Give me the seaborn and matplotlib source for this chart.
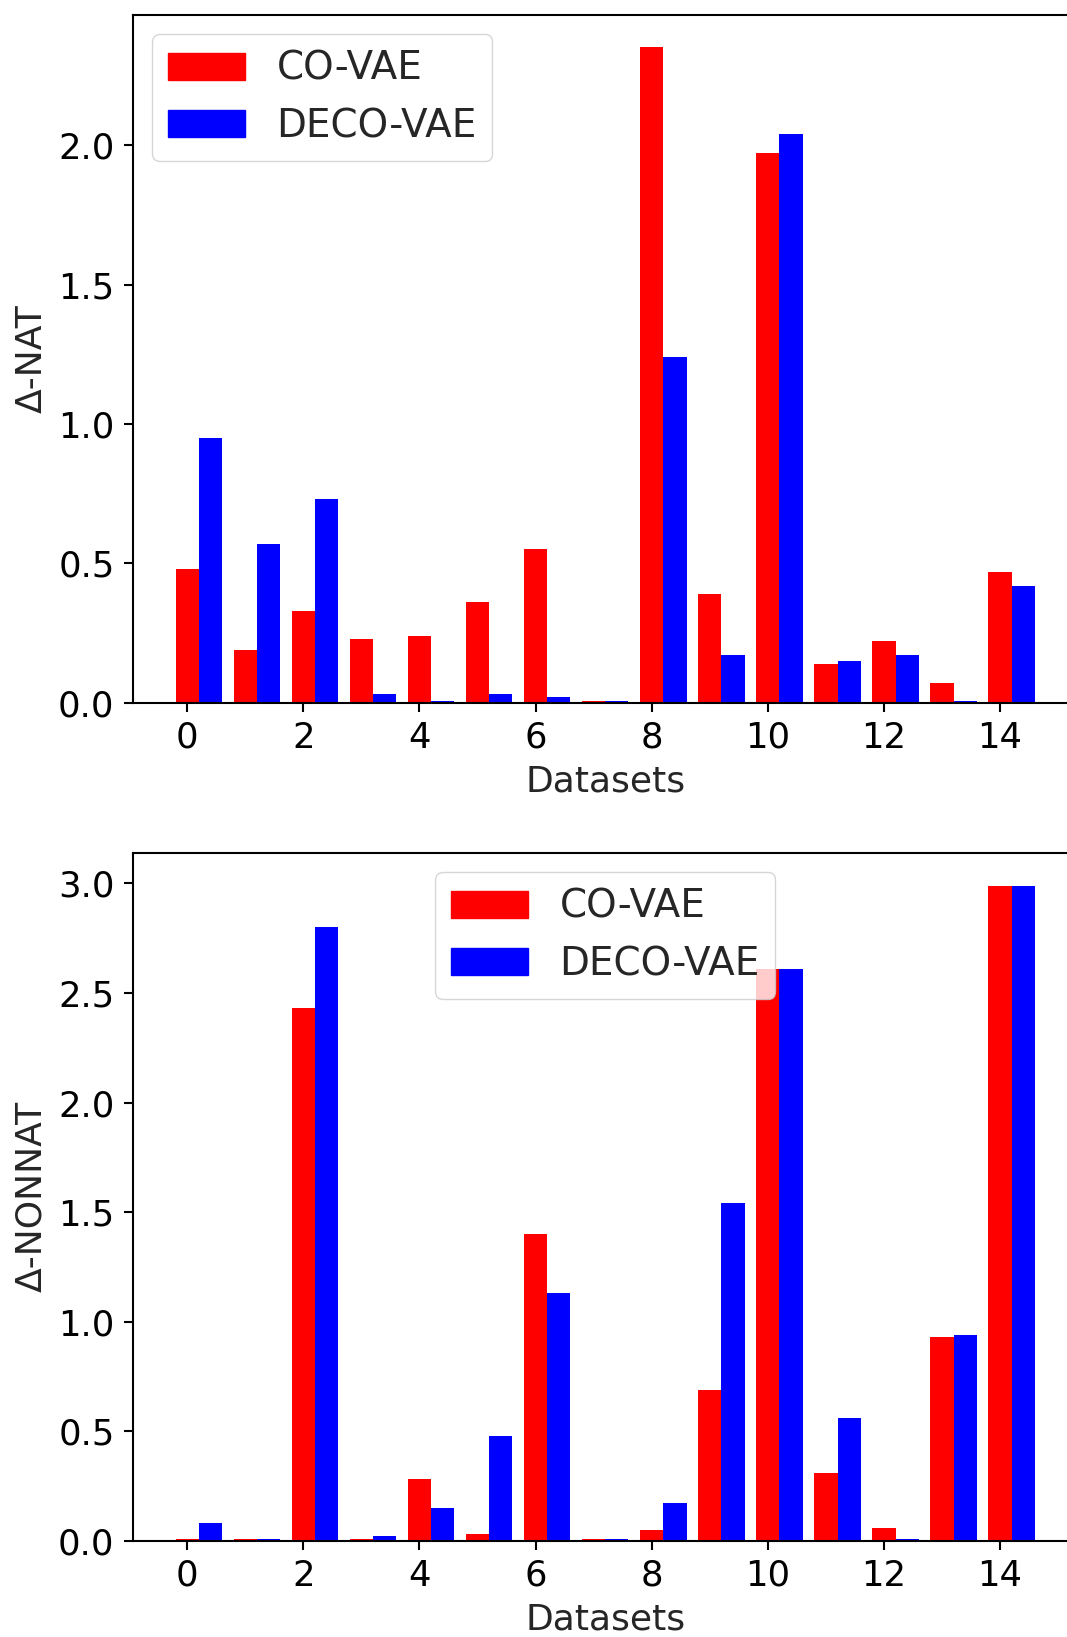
import matplotlib
matplotlib.use("Agg")
import matplotlib.pyplot as plt
from matplotlib.patches import Patch
import seaborn as sns
import pandas as pd
import numpy as np

# values (dataset index 0..14)
datasets = list(range(15))
models = ["CO-VAE", "DECO-VAE"]
nat_co = [0.48, 0.19, 0.33, 0.23, 0.24, 0.36, 0.55, 0.006, 2.35, 0.39, 1.97, 0.14, 0.22, 0.07, 0.47]
nat_deco = [0.95, 0.57, 0.73, 0.03, 0.006, 0.03, 0.02, 0.006, 1.24, 0.17, 2.04, 0.15, 0.17, 0.006, 0.42]
nonnat_co = [0.01, 0.01, 2.43, 0.01, 0.28, 0.03, 1.40, 0.01, 0.05, 0.69, 2.61, 0.31, 0.06, 0.93, 2.99]
nonnat_deco = [0.08, 0.01, 2.80, 0.02, 0.15, 0.48, 1.13, 0.01, 0.17, 1.54, 2.61, 0.56, 0.01, 0.94, 2.99]

colors = {"CO-VAE": "red", "DECO-VAE": "blue"}

sns.set_style("ticks")
plt.rcParams.update({
    "font.family": ["DejaVu Sans"],
    "axes.edgecolor": "black",
    "axes.linewidth": 1.5,
    "xtick.color": "black",
    "ytick.color": "black",
    "xtick.major.size": 6.5,
    "ytick.major.size": 6.5,
    "xtick.major.width": 1.5,
    "ytick.major.width": 1.5,
    "xtick.major.pad": 6.5,
    "ytick.major.pad": 6.5,
    "axes.labelpad": 7.0,
})


def make_frame(co, deco):
    # red bar centred on the dataset index, blue bar just right of it
    df = pd.DataFrame({
        "pos": [d + 0.2 for d in datasets] * 2,
        "value": co + deco,
        "model": [models[0]] * len(co) + [models[1]] * len(deco),
    })
    return df


def draw_panel(ax, co, deco, ylabel, loc):
    df = make_frame(co, deco)
    sns.barplot(data=df, x="pos", y="value", hue="model", hue_order=models,
                palette=colors, native_scale=True, dodge=True, width=0.8,
                saturation=1, errorbar=None, linewidth=0, legend=False, ax=ax)
    ax.set_xlim(-0.94, 15.34)
    ax.set_ylim(0, 1.05 * max(max(co), max(deco)))
    ax.set_xticks(np.arange(0, 15, 2))
    ax.set_xticklabels([str(t) for t in range(0, 15, 2)])
    ax.tick_params(labelsize=25.5)
    ax.set_xlabel("Datasets", fontsize=26)
    ax.set_ylabel(ylabel, fontsize=26)
    for s in ax.spines.values():
        s.set_visible(True)
    handles = [Patch(color=colors[m], label=m) for m in models]
    ax.legend(handles=handles, loc=loc, fontsize=28, borderaxespad=0.5)


fig = plt.figure(figsize=(10.67, 16.37), dpi=100)
ax1 = fig.add_axes([0.1243, 0.5707, 0.8859, 0.4203])
ax2 = fig.add_axes([0.1243, 0.0588, 0.8859, 0.4202])

draw_panel(ax1, nat_co, nat_deco, "Δ-NAT", "upper left")
draw_panel(ax2, nonnat_co, nonnat_deco, "Δ-NONNAT", "upper center")
ax1.set_yticks(np.arange(0, 2.01, 0.5))
ax2.set_yticks(np.arange(0, 3.01, 0.5))

fig.savefig("out.png", dpi=100)
